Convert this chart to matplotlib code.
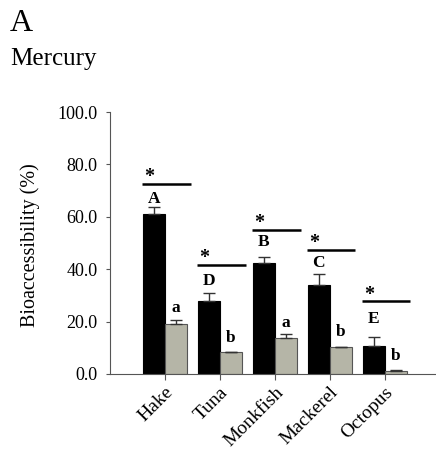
import matplotlib
matplotlib.use("Agg")
import matplotlib.pyplot as plt
import matplotlib.transforms as mtransforms
import numpy as np

plt.rcParams['font.family'] = ['Liberation Serif', 'DejaVu Serif']

species = ["Hake", "Tuna", "Monkfish", "Mackerel", "Octopus"]
black_vals = [60.9, 27.9, 42.2, 33.8, 10.8]
black_err = [3.0, 3.0, 2.3, 4.3, 3.4]
gray_vals = [19.0, 8.3, 13.7, 10.1, 1.3]
gray_err = [1.6, 0.2, 1.5, 0.2, 0.3]
upper_letters = ["A", "D", "B", "C", "E"]
upper_y = [66.8, 35.6, 50.5, 42.5, 20.9]
lower_letters = ["a", "b", "a", "b", "b"]
lower_y = [25.1, 13.9, 19.6, 16.1, 6.9]
sig_line_y = [72.6, 41.6, 55.0, 47.3, 27.7]
yticks = [0, 20, 40, 60, 80, 100]

fig = plt.figure(figsize=(4.36, 4.50), dpi=100)
ax = fig.add_axes([0.252, 0.169, 0.746, 0.582])

x = np.arange(1, len(species) + 1)
w = 0.40
ax.bar(x - w / 2, black_vals, width=w, color="black", edgecolor="black", linewidth=0.8,
       yerr=[np.zeros(len(x)), black_err], error_kw=dict(ecolor="#333333", elinewidth=1.0, capsize=4, capthick=1.0))
ax.bar(x + w / 2, gray_vals, width=w, color="#b5b5a7", edgecolor="#555555", linewidth=0.8,
       yerr=[np.zeros(len(x)), gray_err], error_kw=dict(ecolor="#333333", elinewidth=1.0, capsize=4, capthick=1.0))

for xi, lt, ly in zip(x, upper_letters, upper_y):
    ax.text(xi - w / 2, ly, lt, ha="center", va="center", fontsize=12.5, fontweight="bold")
for xi, lt, ly in zip(x, lower_letters, lower_y):
    ax.text(xi + w / 2, ly, lt, ha="center", va="center", fontsize=12.5, fontweight="bold")
for xi, sy in zip(x, sig_line_y):
    ax.plot([xi - 0.42, xi + 0.47], [sy, sy], color="black", lw=1.8, solid_capstyle="butt")
    ax.text(xi - 0.28, sy - 1.2, "*", ha="center", va="bottom", fontsize=14.5, fontweight="bold")

ax.set_xlim(0, 5.92)
ax.set_ylim(0, 100)
ax.set_yticks(yticks)
ax.set_yticklabels([f"{v:.1f}" for v in yticks], fontsize=13)
ax.set_xticks(x)
ax.set_xticklabels(species, rotation=45, ha="right", va="top", rotation_mode="anchor", fontsize=14)
offset = mtransforms.ScaledTranslation(5 / 100, 3 / 100, fig.dpi_scale_trans)
for lab in ax.get_xticklabels():
    lab.set_transform(lab.get_transform() + offset)
ax.tick_params(axis="y", length=3, width=0.8, color="#555555", pad=6)
ax.tick_params(axis="x", length=4, width=0.8, color="#555555", pad=3)
ax.spines["top"].set_visible(False)
ax.spines["right"].set_visible(False)
for s in ["left", "bottom"]:
    ax.spines[s].set_color("#555555")
    ax.spines[s].set_linewidth(0.8)
ax.set_ylabel("Bioaccessibility (%)", fontsize=14.5)
ax.yaxis.set_label_coords(-0.216, 0.492)

fig.text(10 / 436, 1 - 31 / 450, "A", fontsize=23, ha="left", va="baseline")
fig.text(10 / 436, 1 - 65 / 450, "Mercury", fontsize=18, ha="left", va="baseline")

fig.savefig("out.png", dpi=100)
